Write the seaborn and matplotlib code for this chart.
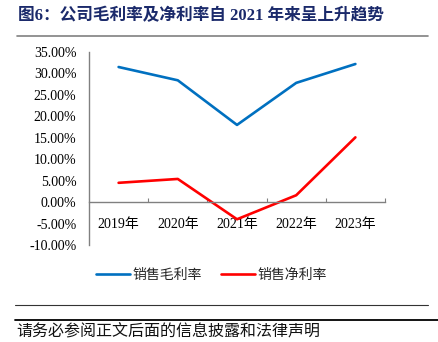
import matplotlib
matplotlib.use("Agg")
import matplotlib.pyplot as plt
from matplotlib.lines import Line2D
from matplotlib.ticker import FixedLocator, FuncFormatter
import pandas as pd
import seaborn as sns

years = ["2019年", "2020年", "2021年", "2022年", "2023年"]
gross_margin = [31.5, 28.4, 18.0, 27.8, 32.2]
net_margin = [4.5, 5.4, -4.0, 1.6, 15.1]
series_names = ["销售毛利率", "销售净利率"]
series_colors = ["#0070C0", "#FF0000"]
title_text = "图6：公司毛利率及净利率自 2021 年来呈上升趋势"
footer_text = "请务必参阅正文后面的信息披露和法律声明"

df = pd.DataFrame({
    "year": years * 2,
    "value": gross_margin + net_margin,
    "series": [series_names[0]] * len(years) + [series_names[1]] * len(years),
})

sns.set_theme(style="white")
serif_cjk = ["Liberation Serif", "Noto Sans CJK SC"]
plt.rcParams["font.family"] = serif_cjk
plt.rcParams["axes.unicode_minus"] = False

fig = plt.figure(figsize=(4.38, 3.42), dpi=100)
ax = fig.add_axes([89 / 438, 1 - 245 / 342, 296 / 438, 193 / 342])

sns.lineplot(data=df, x="year", y="value", hue="series", hue_order=series_names,
             palette=series_colors, linewidth=1.9, ax=ax, legend=False, sort=False)

ax.set_xlim(-0.5, len(years) - 0.5)
ax.set_ylim(-10, 35)
ax.set_xlabel("")
ax.set_ylabel("")

ax.yaxis.set_major_locator(FixedLocator([-10 + 5 * i for i in range(10)]))
ax.yaxis.set_major_formatter(FuncFormatter(lambda v, _: f"{v:.2f}%"))

ax.set_xticks(range(len(years)))
ax.set_xticklabels(years)
ax.xaxis.set_minor_locator(FixedLocator([i + 0.5 for i in range(len(years))]))

for s in ["top", "right"]:
    ax.spines[s].set_visible(False)
ax.spines["bottom"].set_position(("data", 0))
for s in ["left", "bottom"]:
    ax.spines[s].set_color("#808080")
    ax.spines[s].set_linewidth(1.0)

ax.tick_params(axis="y", direction="in", length=3.6, width=0.8, color="#808080",
               labelsize=10, pad=9, labelcolor="black")
ax.tick_params(axis="x", which="major", length=0, labelsize=10, pad=11.5,
               labelcolor="black")
ax.tick_params(axis="x", which="minor", direction="in", length=3, width=0.8,
               color="#808080", bottom=True)
for lbl in ax.get_xticklabels() + ax.get_yticklabels():
    lbl.set_family(serif_cjk)
ax.grid(False)

handles = [Line2D([], [], color=c, linewidth=1.9) for c in series_colors]
fig.legend(handles, series_names, loc="center", bbox_to_anchor=(0.483, 1 - 275 / 342),
           ncol=2, frameon=False, handlelength=2.4, handletextpad=0.2,
           columnspacing=1.4, prop={"family": ["Noto Sans CJK SC"], "size": 10})

fig.text(18 / 438, 1 - 16 / 342, title_text, fontsize=12, fontweight="bold",
         color="#1B2A6B", va="center", ha="left", family=serif_cjk)
fig.add_artist(Line2D([17 / 438, 428 / 438], [1 - 36 / 342] * 2, color="#808080",
                      linewidth=1.2, transform=fig.transFigure))

fig.add_artist(Line2D([15 / 438, 428 / 438], [1 - 305 / 342] * 2, color="#333333",
                      linewidth=0.8, transform=fig.transFigure))
fig.add_artist(Line2D([15 / 438, 1.0], [1 - 320 / 342] * 2, color="black",
                      linewidth=1.3, transform=fig.transFigure))
fig.text(16 / 438, 1 - 332 / 342, footer_text, fontsize=11.5, color="#111111",
         va="center", ha="left", family=["Noto Sans CJK SC"])

fig.savefig("out.png", dpi=100)
